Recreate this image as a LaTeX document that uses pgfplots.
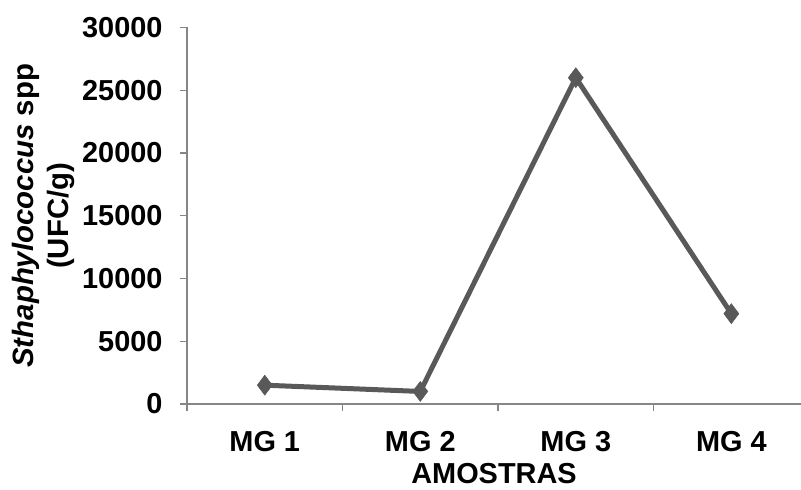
\documentclass[border=0pt]{standalone}
\usepackage{fontspec}
\setmainfont{Liberation Sans}
\usepackage{pgfplots}
\pgfplotsset{compat=1.18}
\definecolor{linegray}{HTML}{595959}
\definecolor{axisgray}{HTML}{868686}
\newcommand{\bigfont}{\bfseries\fontsize{29}{34}\selectfont}
\newcommand{\labfont}{\bfseries\fontsize{29.5}{35}\selectfont}
\begin{document}
\begin{tikzpicture}
\useasboundingbox (0,0) rectangle (801bp,490bp);
\begin{axis}[
  at={(187bp,86bp)}, anchor=south west,
  scale only axis,
  width=614bp, height=376.5bp,
  xmin=-0.5, xmax=3.448,
  ymin=0, ymax=30000,
  ytick={0,5000,...,30000},
  scaled ticks=false,
  axis x line*=bottom, axis y line*=left,
  axis line style={axisgray, line width=1.4bp, -},
  tick style={axisgray, line width=1.4bp},
  tick align=outside,
  major tick length=7bp,
  xtick={-0.5,0.5,1.5,2.5},
  xticklabels={},
  extra x ticks={0,1,2,3},
  extra x tick labels={MG 1,MG 2,MG 3,MG 4},
  extra x tick style={major tick length=0pt, tick label style={yshift=-24bp}},
  /pgf/number format/assume math mode=true,
  /pgf/number format/1000 sep={},
  ticklabel style={font=\bigfont, text=black},
  yticklabel style={xshift=-14bp},
  ylabel={\textit{Sthaphylococcus} spp\\(UFC/g)},
  ylabel style={at={(axis description cs:-0.1824,0.5)}, anchor=south, inner sep=0pt, align=center, font=\labfont},
  xlabel={AMOSTRAS},
  xlabel style={at={(axis description cs:0.5,0)}, anchor=north, yshift=-59bp, inner sep=0pt, font=\bigfont},
  clip=false,
]
\addplot[linegray, line width=5bp, mark=diamond*, mark size=10bp, mark options={fill=linegray, draw=linegray, line width=0.5bp}]
  coordinates {(0,1500) (1,1000) (2,26000) (3,7200)};
\end{axis}
\end{tikzpicture}
\end{document}
